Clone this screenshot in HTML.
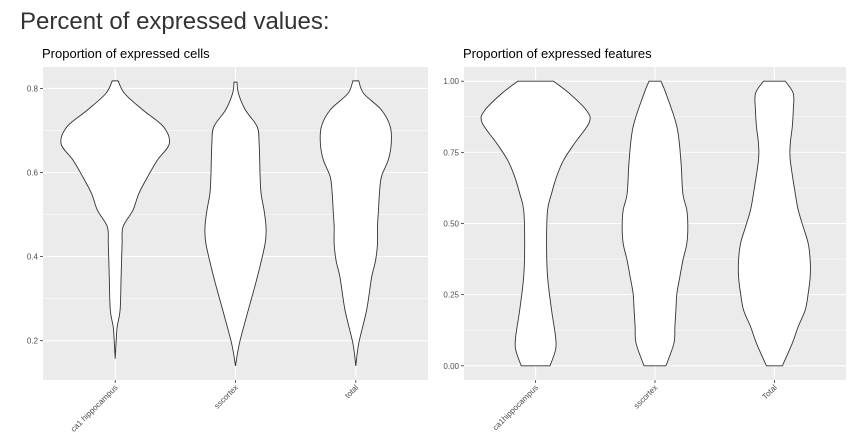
<!DOCTYPE html>
<html><head><meta charset="utf-8"><style>
body{margin:0;background:#fff;width:859px;height:441px;overflow:hidden}
svg{font-family:"Liberation Sans",sans-serif}
</style></head><body>
<svg id="c" width="859" height="441" xmlns="http://www.w3.org/2000/svg">
<text x="20" y="29" font-size="24" fill="#333">Percent of expressed values:</text>
</svg>
<script>
// ---- data ----
const leftCategories = ["ca1 hippocampus", "sscortex", "total"];
const leftTicks = [0.2, 0.4, 0.6, 0.8];
const leftTickLabels = ["0.2", "0.4", "0.6", "0.8"];
// violin profiles: [value, density]
const leftCa1 = [[0.157,0],[0.2,1],[0.233,2],[0.273,5],[0.35,6],[0.43,7],[0.471,8],[0.51,18],[0.55,24],[0.59,33],[0.63,43],[0.669,55],[0.709,49],[0.749,28],[0.788,9.5],[0.818,3]];
const leftSs = [[0.14,0],[0.194,4],[0.273,13],[0.35,22],[0.43,30],[0.47,31],[0.51,29],[0.55,26],[0.59,25],[0.669,24],[0.709,22],[0.749,10],[0.788,3],[0.815,1.5]];
const leftTotal = [[0.14,0],[0.194,3],[0.273,11],[0.35,16],[0.39,20],[0.43,22],[0.471,22],[0.51,23],[0.55,24],[0.59,26],[0.63,33],[0.669,36],[0.709,35],[0.749,26],[0.788,8],[0.818,3]];
const rightCategories = ["ca1hippocampus", "sscortex", "Total"];
const rightTicks = [0, 0.25, 0.5, 0.75, 1];
const rightTickLabels = ["0.00", "0.25", "0.50", "0.75", "1.00"];
const rightCa1 = [[0,14.5],[0.056,20],[0.103,20],[0.196,16],[0.313,12],[0.43,11],[0.547,12],[0.605,16],[0.664,21],[0.722,28],[0.781,39],[0.856,54],[0.898,51],[0.957,34],[1,18]];
const rightSs = [[0,11],[0.079,19],[0.138,20],[0.196,21],[0.254,22],[0.313,25],[0.37,28],[0.43,32],[0.488,33],[0.547,32],[0.605,28],[0.722,26],[0.84,22],[0.957,11],[1,6]];
const rightTotal = [[0,8],[0.079,18],[0.138,24],[0.196,31],[0.254,34],[0.313,36],[0.37,36],[0.43,34],[0.488,29],[0.547,24],[0.605,21],[0.722,16],[0.781,16],[0.84,18],[0.898,19],[0.957,19],[1,11]];

const NS="http://www.w3.org/2000/svg";
const svg=document.getElementById('c');
function mk(tag,attrs,parent){const e=document.createElementNS(NS,tag);for(const k in attrs)e.setAttribute(k,attrs[k]);(parent||svg).appendChild(e);return e;}

function smooth(pts){
  let d="M"+pts[0][0].toFixed(2)+","+pts[0][1].toFixed(2);
  for(let i=0;i<pts.length-1;i++){
    const p0=pts[Math.max(0,i-1)],p1=pts[i],p2=pts[i+1],p3=pts[Math.min(pts.length-1,i+2)];
    const c1=[p1[0]+(p2[0]-p0[0])/6,p1[1]+(p2[1]-p0[1])/6];
    const c2=[p2[0]-(p3[0]-p1[0])/6,p2[1]-(p3[1]-p1[1])/6];
    d+="C"+c1[0].toFixed(2)+","+c1[1].toFixed(2)+" "+c2[0].toFixed(2)+","+c2[1].toFixed(2)+" "+p2[0].toFixed(2)+","+p2[1].toFixed(2);
  }
  return d;
}

function panel(cfg){
  const {x0,x1,y0,y1,vmin,vmax,ticks,labels,cats,series,title,id}=cfg;
  const g=mk('g',{});
  
  
  const yS=v=>y1-(v-vmin)/(vmax-vmin)*(y1-y0);
  const band=(x1-x0)/(cats.length+0.2);
  const xS=i=>x0+band*0.6+band*i;
  const bg=mk('rect',{x:x0,y:y0,width:x1-x0,height:y1-y0,fill:'#ebebeb'},g);
  
  
  const step=ticks[1]-ticks[0];
  for(let i=-1;i<=ticks.length;i++){
    const v=ticks[0]+step/2+step*i;
    if(v<vmin||v>vmax)continue;
    const l=mk('line',{x1:x0,x2:x1,y1:yS(v),y2:yS(v),stroke:'#fff','stroke-width':0.5},g);
    
    
  }
  ticks.forEach((v,i)=>{
    const l=mk('line',{x1:x0,x2:x1,y1:yS(v),y2:yS(v),stroke:'#fff','stroke-width':1.1},g);
    
    
    const t=mk('line',{x1:x0-3,x2:x0,y1:yS(v),y2:yS(v),stroke:'#333','stroke-width':0.8},g);
    
    
    const tx=mk('text',{x:x0-5,y:yS(v)+3,'font-size':8,fill:'#4d4d4d','text-anchor':'end'},g);
    tx.textContent=labels[i];
    
    
  });
  let maxd=0;series.forEach(s=>s.forEach(p=>{if(p[1]>maxd)maxd=p[1];}));
  const wS=d=>d/maxd*0.45*band;
  cats.forEach((c,i)=>{
    const cx=xS(i);
    const l=mk('line',{x1:cx,x2:cx,y1:y0,y2:y1,stroke:'#fff','stroke-width':1.1},g);
    
    
    const t=mk('line',{x1:cx,x2:cx,y1:y1,y2:y1+3,stroke:'#333','stroke-width':0.8},g);
    
    
    const tx=mk('text',{x:0,y:0,'font-size':8,fill:'#4d4d4d','text-anchor':'end',transform:`translate(${cx+3},${y1+8}) rotate(-45)`},g);
    tx.textContent=c;
    
    
  });
  series.forEach((s,i)=>{
    const cx=xS(i);
    const right=s.map(p=>[cx+wS(p[1]),yS(p[0])]);
    const left=s.map(p=>[cx-wS(p[1]),yS(p[0])]).reverse();
    let d=smooth(right);
    d+=smooth(left).replace(/^M/,"L")+"Z";
    const p=mk('path',{d:d,fill:'#fff',stroke:'#333','stroke-width':0.9},g);
    
    
  });
  const tt=mk('text',{x:x0-1,y:y0-9,'font-size':13,fill:'#000'},g);
  tt.textContent=title;
  
  
}
panel({id:'cells',x0:43,x1:428,y0:67,y1:380,vmin:0.1065,vmax:0.851,ticks:leftTicks,labels:leftTickLabels,cats:leftCategories,series:[leftCa1,leftSs,leftTotal],title:"Proportion of expressed cells"});
panel({id:'features',x0:464,x1:846,y0:67,y1:380,vmin:-0.05,vmax:1.05,ticks:rightTicks,labels:rightTickLabels,cats:rightCategories,series:[rightCa1,rightSs,rightTotal],title:"Proportion of expressed features"});
</script>
</body></html>
